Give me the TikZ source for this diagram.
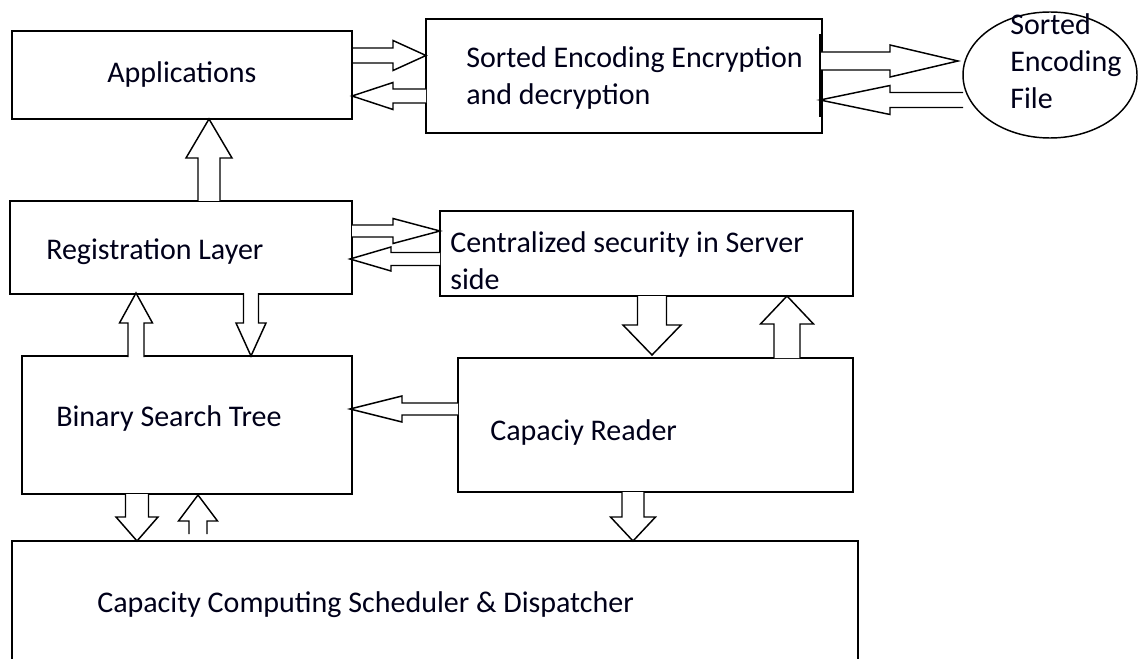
\documentclass[tikz,border=0pt]{standalone}
\usepackage{fontspec}
\setmainfont{Carlito}
\usetikzlibrary{shapes.geometric}
\def\px{0.75pt}
\tikzset{
  box/.style={draw=black, line width=1.1pt, rectangle, inner sep=0pt},
  blk/.style={draw=black, line width=1.1pt, fill=white, line join=miter},
  lbl/.style={inner sep=0pt, anchor=west, align=left, font=\fontsize{22.5pt}{27.75pt}\selectfont, text=black!90!blue},
}
% horizontal block arrow: tail x, tip x, centre y, shaft half, head half, head base x
\newcommand\harr[6]{\draw[blk] (#1,{#3-#4}) -- (#6,{#3-#4}) -- (#6,{#3-#5}) -- (#2,#3) -- (#6,{#3+#5}) -- (#6,{#3+#4}) -- (#1,{#3+#4});}
% vertical block arrow: tail y, tip y, centre x, shaft half, head half, head base y
\newcommand\varr[6]{\draw[blk] ({#3-#4},#1) -- ({#3-#4},#6) -- ({#3-#5},#6) -- (#3,#2) -- ({#3+#5},#6) -- ({#3+#4},#6) -- ({#3+#4},#1);}
\begin{document}
\begin{tikzpicture}[x=\px, y=-\px]
\useasboundingbox (0,0) rectangle (1138,659);
% boxes
\node[box, minimum width=340*\px, minimum height=88*\px] (app) at (182,75) {};
\node[box, minimum width=396*\px, minimum height=114*\px] (enc) at (624,76) {};
\node[draw=black, line width=1.1pt, ellipse, minimum width=174*\px, minimum height=126*\px, inner sep=0pt] (file) at (1050,75) {};
\node[box, minimum width=342*\px, minimum height=93*\px] (reg) at (181,247.5) {};
\node[box, minimum width=413*\px, minimum height=85*\px] (cen) at (646.5,253.5) {};
\node[box, minimum width=330*\px, minimum height=138*\px] (bst) at (187,425) {};
\node[box, minimum width=395*\px, minimum height=134*\px] (cap) at (655.5,425) {};
\node[box, minimum width=846*\px, minimum height=122*\px] (sch) at (435,602) {};
\draw[line width=2pt] (820,34) -- (820,117);
% labels
\node[lbl] (tapp) at (107,75) {Applications};
\node[lbl] (tenc) at (466,78) {Sorted Encoding Encryption\\and decryption};
\node[lbl] (tfile) at (1010,61) {Sorted\\Encoding\\File};
\node[lbl] (treg) at (46,252) {Registration Layer};
\node[lbl] (tcen) at (450,261) {Centralized security in Server\\side};
\node[lbl] (tbst) at (56,418) {Binary Search Tree};
\node[lbl] (tcap) at (490,432) {Capaciy Reader};
\node[lbl] (tsch) at (97,605) {Capacity Computing Scheduler \& Dispatcher};
% block arrows
\harr{353}{426}{55.5}{7.5}{15}{393}
\harr{426}{352}{96}{7}{13.5}{393}
\harr{821}{958}{61}{9}{16}{890}
\harr{963}{820}{100}{7.5}{14.5}{890}
\varr{201}{119}{209}{11}{23}{158}
\harr{352}{440}{231}{6}{12.5}{393}
\harr{440}{350}{259}{6.5}{12}{391}
\varr{357}{293}{136}{8}{16.5}{323}
\varr{293}{356}{251}{7.5}{15}{323}
\varr{296}{355}{652}{14.5}{29}{325}
\varr{358}{296}{787}{13}{26.5}{324}
\harr{458}{350}{409}{6}{13}{402}
\varr{494}{541}{137}{11.5}{21}{517}
\varr{534}{495}{198}{9}{19.5}{521}
\varr{492}{541}{633}{11}{22.5}{517}
\end{tikzpicture}
\end{document}
